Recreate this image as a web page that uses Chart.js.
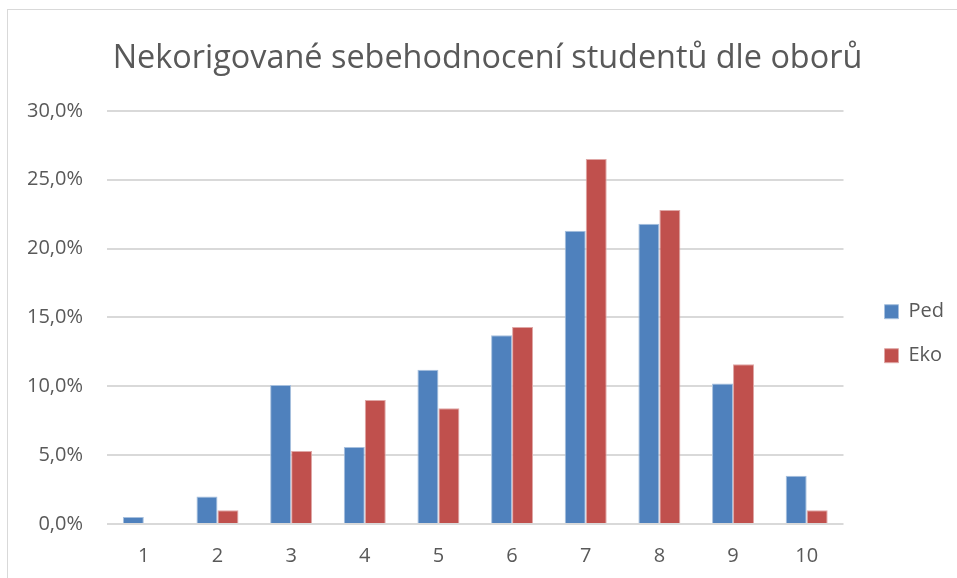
<!DOCTYPE html>
<html>
<head>
<meta charset="utf-8">
<script src="https://cdn.jsdelivr.net/npm/chart.js@4"></script>
<style>
  html, body { margin: 0; padding: 0; background: #fff; }
  #wrap { position: relative; width: 957px; height: 578px; }
  #frame { position: absolute; left: 7px; top: 9px; width: 970px; height: 600px; border: 1px solid #d9d9d9; box-sizing: border-box; }
  canvas { position: absolute; left: 0; top: 0; }
</style>
</head>
<body>
<div id="wrap">
  <div id="frame"></div>
  <canvas id="chart" width="957" height="578"></canvas>
</div>
<script>
// values (percent)
const categories = ['1', '2', '3', '4', '5', '6', '7', '8', '9', '10'];
const ped = [0.5, 2.0, 10.1, 5.6, 11.2, 13.7, 21.3, 21.8, 10.2, 3.5];
const eko = [0.0, 1.0, 5.3, 9.0, 8.4, 14.3, 26.5, 22.8, 11.6, 1.0];

const textColor = '#595959';
const fontFamily = "'Open Sans', 'Noto Sans', sans-serif";

new Chart(document.getElementById('chart').getContext('2d'), {
  type: 'bar',
  data: {
    labels: categories,
    datasets: [
      { label: 'Ped', data: ped, backgroundColor: '#4f81bd', borderColor: '#a7c0de', borderWidth: 1 },
      { label: 'Eko', data: eko, backgroundColor: '#c0504d', borderColor: '#dfa7a6', borderWidth: 1 }
    ]
  },
  options: {
    responsive: false,
    animation: false,
    layout: { padding: { left: 21, right: 3, top: 39, bottom: 0 } },
    datasets: { bar: { barPercentage: 1, categoryPercentage: 0.57 } },
    plugins: {
      title: {
        display: true,
        text: 'Nekorigované sebehodnocení studentů dle oborů',
        color: textColor,
        font: { family: fontFamily, size: 32.4, weight: 'normal' },
        padding: { top: 0, bottom: 33 }
      },
      legend: {
        position: 'right',
        // empty title only pushes the legend items a bit lower
        title: { display: true, text: '', font: { size: 12 }, padding: { top: 36, bottom: 0 } },
        labels: {
          color: textColor,
          font: { family: fontFamily, size: 20 },
          boxWidth: 14,
          boxHeight: 14,
          padding: 24
        }
      },
      tooltip: { enabled: false }
    },
    scales: {
      x: {
        grid: { display: false },
        border: { display: false },
        afterFit: s => { s.height = 54; },
        ticks: { color: textColor, font: { family: fontFamily, size: 20 }, padding: 12 }
      },
      y: {
        min: 0,
        max: 30,
        afterFit: s => { s.width = 86; },
        grid: { color: '#d9d9d9', lineWidth: 2, drawTicks: false },
        border: { display: false },
        ticks: {
          stepSize: 5,
          padding: 24,
          color: textColor,
          font: { family: fontFamily, size: 20 },
          callback: v => v.toFixed(1).replace('.', ',') + '%'
        }
      },
      // empty spacer between plot and legend
      gap: {
        position: 'right',
        grid: { display: false },
        border: { display: false },
        ticks: { display: false },
        afterFit: s => { s.width = 17; }
      }
    }
  }
});
</script>
</body>
</html>
